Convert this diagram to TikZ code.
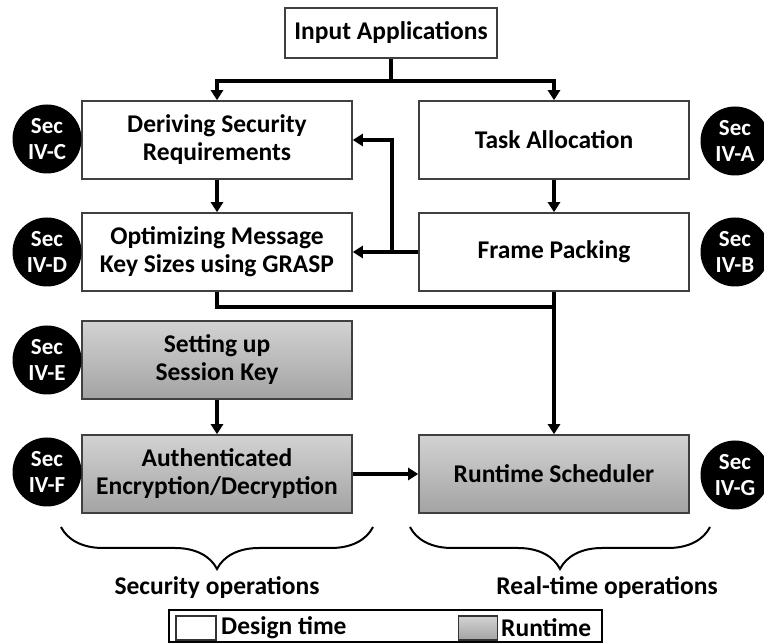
\documentclass[tikz,border=0pt]{standalone}
\usepackage{fontspec}
\setmainfont{Carlito}
\usetikzlibrary{arrows.meta,decorations.pathreplacing}
\begin{document}
\begin{tikzpicture}[x=1pt,y=-1pt,
  lbl/.style={font=\bfseries\fontsize{25.5}{28}\selectfont},
  box/.style={lbl, draw=black!75, line width=1.6pt, minimum width=270pt, minimum height=78pt, align=center, inner sep=0pt},
  rt/.style={box, top color=gray!35, bottom color=gray!72},
  sec/.style={circle, fill=black, text=white, minimum size=69pt, inner sep=0pt, align=center, font=\bfseries\fontsize{23}{26}\selectfont},
  arr/.style={-{Triangle[length=10pt,width=12pt]}, line width=3.5pt},
  ln/.style={line width=3.5pt},
  brc/.style={decorate, decoration={brace, mirror, amplitude=42pt}, line width=2pt}]
\useasboundingbox (0,0) rectangle (764,644);
% boxes
\node[box, minimum width=212pt, minimum height=50pt] (in) at (391,33) {Input Applications};
\node[box] (dsr) at (217,140) {Deriving Security\\Requirements};
\node[box] (ta) at (554,140) {Task Allocation};
\node[box] (om) at (217,252) {Optimizing Message\\Key Sizes using GRASP};
\node[box] (fp) at (554,252) {Frame Packing};
\node[rt] (sk) at (217,360) {Setting up\\Session Key};
\node[rt] (ae) at (217,474) {Authenticated\\Encryption/Decryption};
\node[rt] (rs) at (554,474) {Runtime Scheduler};
% section circles
\node[sec] (c) at (47,139) {Sec\\IV-C};
\node[sec] (d) at (47,252) {Sec\\IV-D};
\node[sec] (e) at (47,360) {Sec\\IV-E};
\node[sec] (f) at (47,472) {Sec\\IV-F};
\node[sec] (a) at (735,141) {Sec\\IV-A};
\node[sec] (b) at (735,252) {Sec\\IV-B};
\node[sec] (g) at (735,475) {Sec\\IV-G};
% connectors
\coordinate (j1) at (391,81);
\draw[ln] (in.south) -- (j1);
\draw[arr] (j1) -| (dsr.north);
\draw[arr] (j1) -| (ta.north);
\draw[arr] (dsr.south) -- (om.north);
\draw[arr] (ta.south) -- (fp.north);
\coordinate (j2) at (392,252);
\draw[arr] (fp.west) -- (om.east);
\draw[arr] (j2) |- (dsr.east);
\coordinate (j3) at (554,307);
\draw[ln] (om.south) |- (j3);
\draw[arr] (fp.south) -- (rs.north);
\draw[arr] (sk.south) -- (ae.north);
\draw[arr] (ae.east) -- (rs.west);
% braces
\coordinate (b1) at (61,527);
\coordinate (b2) at (373,527);
\coordinate (b3) at (410,527);
\coordinate (b4) at (710,527);
\draw[brc] (b1) -- (b2);
\draw[brc] (b3) -- (b4);
\node[lbl] (so) at (217,588) {Security operations};
\node[lbl] (ro) at (607,588) {Real-time operations};
% legend
\node[draw, line width=2.5pt, minimum width=433pt, minimum height=32pt, inner sep=0pt] (leg) at (385.5,626) {};
\node[draw=black!80, line width=1.5pt, minimum width=40pt, minimum height=24pt, inner sep=0pt] (sw1) at (196,628) {};
\node[lbl, anchor=west, inner sep=0pt] (t1) at (221,628) {Design time};
\node[draw=black!80, line width=1.5pt, minimum width=39pt, minimum height=24pt, inner sep=0pt, top color=gray!35, bottom color=gray!72] (sw2) at (478,628) {};
\node[lbl, anchor=west, inner sep=0pt] (t2) at (501,628) {Runtime};
\end{tikzpicture}
\end{document}
